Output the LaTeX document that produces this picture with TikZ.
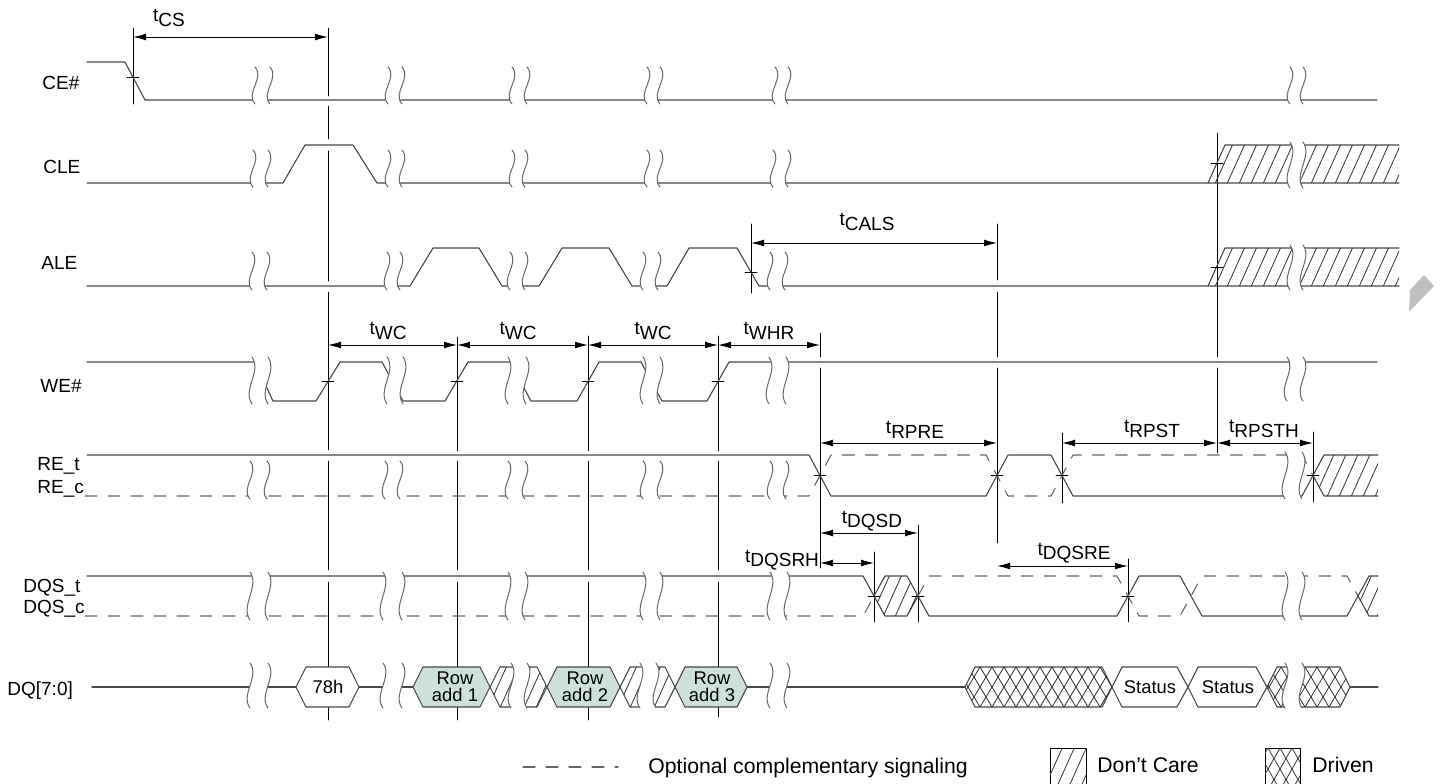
\documentclass[tikz,border=0pt]{standalone}
\usepackage{fontspec}
\setmainfont{Liberation Sans}
\usetikzlibrary{arrows.meta}
\definecolor{rowfill}{RGB}{206,224,220}
\tikzset{
  sig/.style={draw=black!72,line width=0.55pt},
  cmpl/.style={draw=black!60,line width=0.55pt,dash pattern=on 6pt off 5.5pt},
  vln/.style={draw=black,line width=0.45pt},
  dimln/.style={<->,>={Latex[length=6.5pt,width=3.4pt]},line width=0.45pt},
  hatchln/.style={draw=black!80,line width=0.4pt},
  brkln/.style={draw=black!60,line width=0.5pt},
  lbl/.style={font=\fontsize{9.5}{11}\selectfont,inner sep=0pt,anchor=base west},
  tlbl/.style={font=\fontsize{9.5}{11}\selectfont,inner sep=0pt},
  dqtxt/.style={font=\fontsize{9.2}{8.4}\selectfont,inner sep=0pt,align=center},
  legtxt/.style={font=\fontsize{10.6}{12}\selectfont,inner sep=0pt,anchor=base west},
}
\newcommand{\tparm}[1]{t\raisebox{-2.2pt}{#1}}
% break mark: two wavy lines, white between
\newcommand{\sigbreak}[4]{%
  \fill[white] (#1,#3) .. controls ({#1+10},{#3+0.3*(#4-#3)}) and ({#1-10},{#4-0.3*(#4-#3)}) .. (#1,#4)
     -- (#2,#4) .. controls ({#2-10},{#4-0.3*(#4-#3)}) and ({#2+10},{#3+0.3*(#4-#3)}) .. (#2,#3) -- cycle;
  \draw[brkln] (#1,#3) .. controls ({#1+10},{#3+0.3*(#4-#3)}) and ({#1-10},{#4-0.3*(#4-#3)}) .. (#1,#4);
  \draw[brkln] (#2,#3) .. controls ({#2+10},{#3+0.3*(#4-#3)}) and ({#2-10},{#4-0.3*(#4-#3)}) .. (#2,#4);}
% don't care hatching
\newcommand{\dchatch}[4]{%
  \begin{scope}
    \clip #1;
    \foreach \k in {0,...,20}
      \draw[hatchln] ({#2+12*\k},{#4+3}) -- ({#2+12*\k+0.45*(#4-#3+6)},{#3-3});
  \end{scope}}
% driven cross hatching
\newcommand{\drvhatch}[4]{%
  \begin{scope}
    \clip #1;
    \foreach \k in {0,...,16}{
      \draw[hatchln] ({#2+12*\k},{#4}) -- ({#2+12*\k+24},{#3});
      \draw[hatchln] ({#2+12*\k},{#3}) -- ({#2+12*\k+24},{#4});}
  \end{scope}}
\begin{document}
\begin{tikzpicture}[x=0.5pt,y=-0.5pt,line join=round,line cap=round]
  \path[use as bounding box] (0,0) rectangle (1442,783);
  \clip (0,0) rectangle (1442,783);
  % timing reference lines
  \foreach \x/\a/\b in {133/28/104,328/28/96,328/106/139,328/151/281,328/292/450,328/461/570,328/582/720,
      457/337/451,457/461/570,457/582/720,588/336/451,588/461/570,588/582/720,
      718/336/451,718/461/570,718/582/717,751/224/293,820/333/357,820/368/568,
      874/552/622,918/525/622,997/224/280,997/292/357,997/368/543,1062/433/503,
      1128/559/622,1217/133/357,1217/368/453,1313/432/502}
    \draw[vln] (\x,\a) -- (\x,\b);
  % signal names
  \node[lbl] (nce) at (42,89) {CE\#};
  \node[lbl] (ncle) at (43,173) {CLE};
  \node[lbl] (nale) at (41,269) {ALE};
  \node[lbl] (nwe) at (40,392) {WE\#};
  \node[lbl] (nret) at (37,470) {RE\_t};
  \node[lbl] (nrec) at (37,493) {RE\_c};
  \node[lbl] (ndqst) at (23,592) {DQS\_t};
  \node[lbl] (ndqsc) at (23,613) {DQS\_c};
  \node[lbl] (ndq) at (7,695) {DQ[7:0]};
  % CE#, CLE, ALE
  \draw[sig] (87,62) -- (125,62) -- (145,100) -- (1377,100);
  \draw[sig] (87,183) -- (283,183) -- (305,145) -- (353,145) -- (377,183) -- (1399,183);
  \draw[sig] (1208,183) -- (1225,145) -- (1399,145);
  \dchatch{(1208,183)--(1225,145)--(1399,145)--(1399,183)--cycle}{1190}{145}{183}
  \draw[sig] (87,286) -- (410,286) -- (433,248) -- (479,248) -- (502,286) -- (539,286) -- (562,248)
     -- (609,248) -- (632,286) -- (667,286) -- (689,248) -- (737,248) -- (759,286) -- (1399,286);
  \draw[sig] (1208,286) -- (1225,248) -- (1399,248);
  \dchatch{(1208,286)--(1225,248)--(1399,248)--(1399,286)--cycle}{1190}{248}{286}
  % WE#
  \draw[sig] (87,362) -- (255,362) -- (273,401) -- (316,401) -- (340,362) -- (382,362) -- (403,401)
     -- (445,401) -- (468,362) -- (510,362) -- (531,401) -- (577,401) -- (599,362) -- (641,362)
     -- (662,401) -- (707,401) -- (729,362) -- (1377,362);
  % RE_t / RE_c
  \draw[sig] (87,455) -- (809,455) -- (831,496) -- (986,496) -- (1008,455) -- (1051,455) -- (1073,496)
     -- (1302,496) -- (1313,475.5);
  \draw[cmpl] (85,496) -- (809,496) -- (831,455) -- (986,455) -- (1008,496) -- (1051,496) -- (1073,455)
     -- (1302,455) -- (1313,475.5);
  \draw[sig] (1378,455) -- (1324,455) -- (1313,475.5) -- (1324,496) -- (1378,496);
  \dchatch{(1313,475.5)--(1324,455)--(1378,455)--(1378,496)--(1324,496)--cycle}{1290}{455}{496}
  % DQS_t / DQS_c
  \draw[sig] (87,576) -- (863,576) -- (874,596);
  \draw[cmpl] (85,616) -- (863,616) -- (874,596);
  \draw[sig] (874,596) -- (885,576) -- (907,576) -- (918,596) -- (907,616) -- (885,616) -- cycle;
  \dchatch{(874,596)--(885,576)--(907,576)--(918,596)--(907,616)--(885,616)--cycle}{858}{576}{616}
  \draw[sig] (918,596) -- (929,616) -- (1117,616) -- (1139,576) -- (1180,576) -- (1202,616) -- (1347,616) -- (1358,596);
  \draw[cmpl] (918,596) -- (929,576) -- (1117,576) -- (1139,616) -- (1180,616) -- (1202,576) -- (1347,576) -- (1358,596);
  \draw[sig] (1378,576) -- (1369,576) -- (1358,596) -- (1369,616) -- (1378,616);
  \dchatch{(1358,596)--(1369,576)--(1378,576)--(1378,616)--(1369,616)--cycle}{1340}{576}{616}
  % DQ[7:0]
  \draw[sig] (92,687) -- (296,687);
  \draw[sig] (359,687) -- (413,687);
  \draw[sig] (747,687) -- (965,687);
  \draw[sig] (1350,687) -- (1378,687);
  \draw[sig,fill=white] (296,687) -- (306,667) -- (349,667) -- (359,687) -- (349,707) -- (306,707) -- cycle;
  \node[dqtxt] (d78) at (328,687) {78h};
  \draw[sig,fill=rowfill] (413,687) -- (423,667) -- (480,667) -- (490,687) -- (480,707) -- (423,707) -- cycle;
  \node[dqtxt] (drow1) at (455,687) {Row\\add 1};
  \draw[sig] (490,687) -- (500,667) -- (537,667) -- (547,687) -- (537,707) -- (500,707) -- cycle;
  \dchatch{(490,687)--(500,667)--(537,667)--(547,687)--(537,707)--(500,707)--cycle}{475}{667}{707}
  \draw[sig,fill=rowfill] (547,687) -- (557,667) -- (610,667) -- (620,687) -- (610,707) -- (557,707) -- cycle;
  \node[dqtxt] (drow2) at (585,687) {Row\\add 2};
  \draw[sig] (620,687) -- (630,667) -- (665,667) -- (675,687) -- (665,707) -- (630,707) -- cycle;
  \dchatch{(620,687)--(630,667)--(665,667)--(675,687)--(665,707)--(630,707)--cycle}{605}{667}{707}
  \draw[sig,fill=rowfill] (675,687) -- (685,667) -- (737,667) -- (747,687) -- (737,707) -- (685,707) -- cycle;
  \node[dqtxt] (drow3) at (712,687) {Row\\add 3};
  \draw[sig] (965,687) -- (975,667) -- (1102,667) -- (1112,687) -- (1102,707) -- (975,707) -- cycle;
  \drvhatch{(965,687)--(975,667)--(1102,667)--(1112,687)--(1102,707)--(975,707)--cycle}{944}{667}{707}
  \draw[sig,fill=white] (1112,687) -- (1122,667) -- (1177,667) -- (1188,687) -- (1177,707) -- (1122,707) -- cycle;
  \node[dqtxt] (dst1) at (1150,687) {Status};
  \draw[sig,fill=white] (1188,687) -- (1198,667) -- (1256,667) -- (1267,687) -- (1256,707) -- (1198,707) -- cycle;
  \node[dqtxt] (dst2) at (1228,687) {Status};
  \draw[sig] (1267,687) -- (1277,667) -- (1340,667) -- (1350,687) -- (1340,707) -- (1277,707) -- cycle;
  \drvhatch{(1267,687)--(1277,667)--(1340,667)--(1350,687)--(1340,707)--(1277,707)--cycle}{1245}{667}{707}
  % breaks
  \foreach \a/\b in {255/270,388/402,512/527,647/660,775/788,1290/1303} {\sigbreak{\a}{\b}{67}{104}}
  \foreach \a/\b in {253/268,388/402,512/525,647/660,773/788} {\sigbreak{\a}{\b}{150}{187}}
  \sigbreak{1290}{1303}{142}{188}
  \foreach \a/\b in {252/267,387/400,510/525,643/658,770/785} {\sigbreak{\a}{\b}{252}{290}}
  \sigbreak{1290}{1303}{245}{290}
  \foreach \a/\b in {252/268,387/403,508/526,643/660,769/786} {\sigbreak{\a}{\b}{357}{404}}
  \sigbreak{1287}{1303}{357}{401}
  \foreach \a/\b in {250/267,385/400,508/525,643/660,770/786} {\sigbreak{\a}{\b}{461}{499}}
  \sigbreak{1285}{1302}{452}{499}
  \foreach \a/\b in {250/268,383/402,508/525,643/660,770/787,1285/1302} {\sigbreak{\a}{\b}{572}{620}}
  \foreach \a/\b in {250/268,383/402,511/527,640/656,770/787,1285/1302} {\sigbreak{\a}{\b}{663}{708}}
  % crossing ticks
  \foreach \x/\y in {133/77,328/381,457/381,588/381,718/381,751/272,1217/163,1217/267,
      820/475,997/475,1062/475,1313/475,874/596,918/596,1128/596}
    \draw[vln] ({\x-6},\y) -- ({\x+6},\y);
  % timing parameters
  \draw[dimln] (133,37) -- (328,37);
  \node[tlbl] (tcs) at (169,18) {\tparm{CS}};
  \draw[dimln] (751,243) -- (997,243);
  \node[tlbl] (tcals) at (867,222) {\tparm{CALS}};
  \draw[dimln] (328,345) -- (457,345);
  \node[tlbl] (twc1) at (388,331) {\tparm{WC}};
  \draw[dimln] (457,345) -- (588,345);
  \node[tlbl] (twc2) at (518,331) {\tparm{WC}};
  \draw[dimln] (588,345) -- (718,345);
  \node[tlbl] (twc3) at (653,331) {\tparm{WC}};
  \draw[dimln] (718,345) -- (820,345);
  \node[tlbl] (twhr) at (769,331) {\tparm{WHR}};
  \draw[dimln] (820,443) -- (997,443);
  \node[tlbl] (trpre) at (915,430) {\tparm{RPRE}};
  \draw[dimln] (1062,443) -- (1217,443);
  \node[tlbl] (trpst) at (1152,429) {\tparm{RPST}};
  \draw[dimln] (1217,443) -- (1313,443);
  \node[tlbl] (trpsth) at (1264,429) {\tparm{RPSTH}};
  \draw[dimln] (820,533) -- (918,533);
  \node[tlbl] (tdqsd) at (872,521) {\tparm{DQSD}};
  \draw[dimln] (820,563) -- (874,563);
  \node[tlbl] (tdqsrh) at (782,560) {\tparm{DQSRH}};
  \draw[dimln] (997,566) -- (1128,566);
  \node[tlbl] (tdqsre) at (1074,553) {\tparm{DQSRE}};
  % legend
  \draw[cmpl] (523,767) -- (618,767);
  \node[legtxt] (lgopt) at (648,773) {Optional complementary signaling};
  \draw[vln] (1050,748) rectangle (1086,790);
  \dchatch{(1050,748) rectangle (1086,790)}{1030}{748}{790}
  \node[legtxt] (lgdc) at (1097,772) {Don't Care};
  \draw[vln] (1265,748) rectangle (1300,790);
  \drvhatch{(1265,748) rectangle (1300,790)}{1244}{748}{790}
  \node[legtxt] (lgdrv) at (1312,772) {Driven};
  % grey mark at the edge
  \fill[black!25] (1410,290) -- (1424,275) -- (1434,286) -- (1409,312) -- cycle;
\end{tikzpicture}
\end{document}
